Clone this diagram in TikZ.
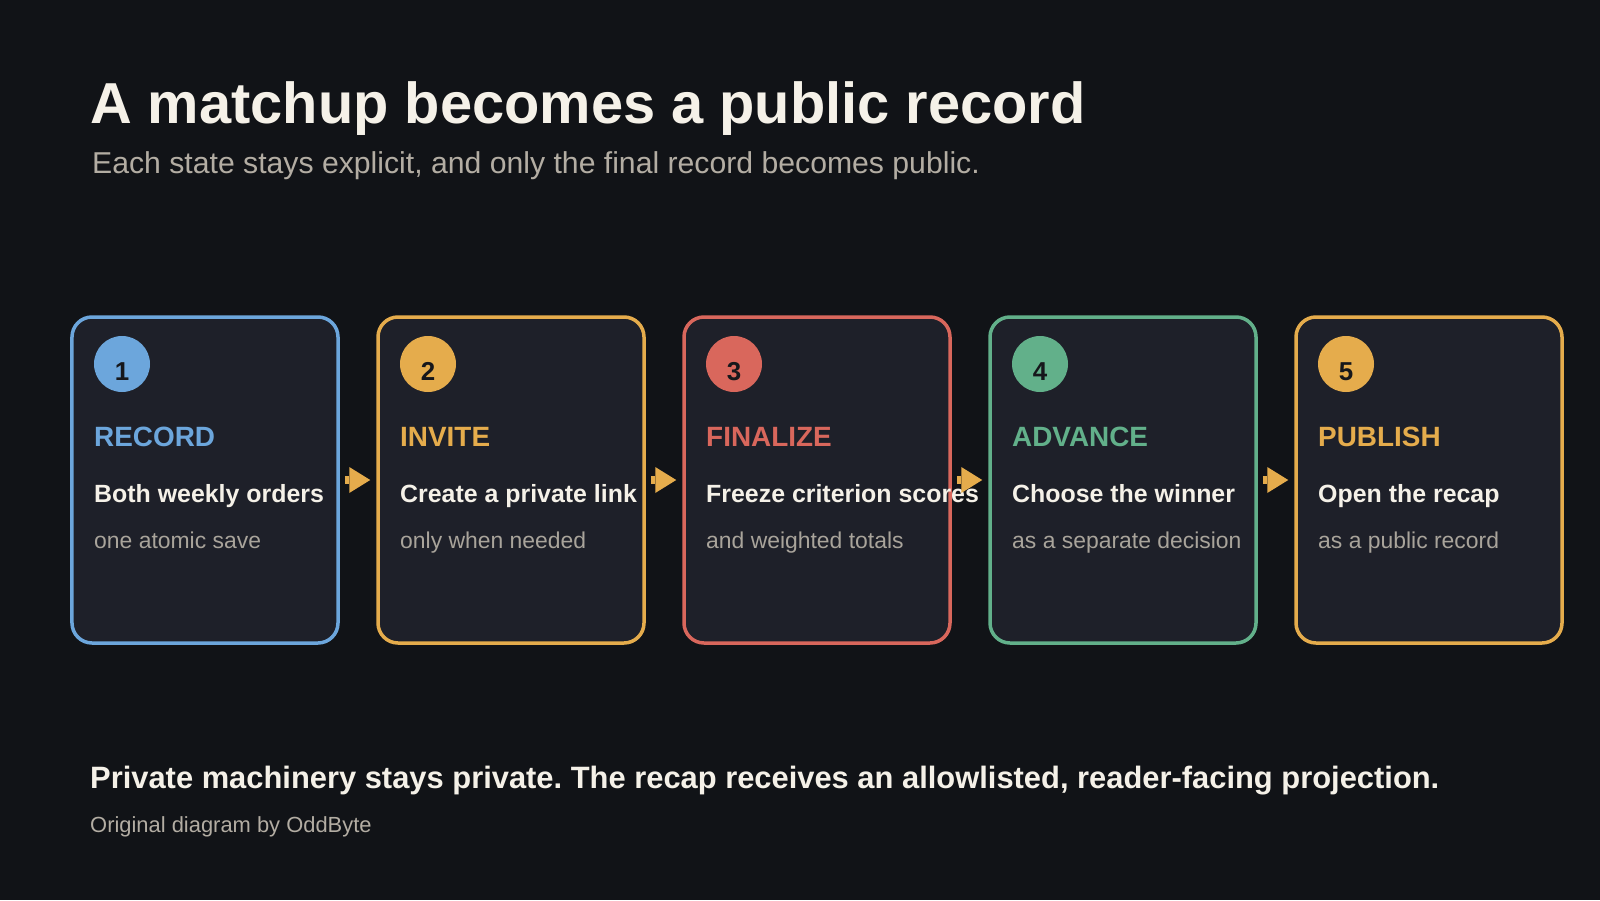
\documentclass[tikz,border=0pt]{standalone}
\usepackage{fontspec}
\setmainfont{Liberation Sans}
\usetikzlibrary{arrows.meta}
\frenchspacing
\definecolor{bgdark}{HTML}{111317}
\definecolor{cardfill}{HTML}{1E2029}
\definecolor{cream}{HTML}{F5F1E8}
\definecolor{greytext}{HTML}{B3ADA3}
\definecolor{subgrey}{HTML}{A9A49B}
\definecolor{cblue}{HTML}{6CA6DC}
\definecolor{corange}{HTML}{E5AC4C}
\definecolor{cred}{HTML}{D9675C}
\definecolor{cgreen}{HTML}{62B08A}
\definecolor{digit}{HTML}{16171B}
\tikzset{
  card/.style={draw=#1,fill=cardfill,line width=3.5bp,rounded corners=20bp,
    minimum width=266bp,minimum height=326bp,inner sep=0},
  badge/.style={circle,fill=#1,minimum size=56bp,inner sep=0},
  txt/.style={anchor=base west,inner sep=0},
  badgenum/.style={anchor=base,inner sep=0,text=digit,font=\fontsize{26}{30}\selectfont\bfseries},
  stage/.style={txt,text=#1,font=\fontsize{28}{32}\selectfont\bfseries},
  lead/.style={txt,text=cream,font=\fontsize{25}{29}\selectfont\bfseries},
  note/.style={txt,text=subgrey,font=\fontsize{23}{27}\selectfont},
  flow/.style={color=corange,line width=8bp,shorten <=5bp,shorten >=6bp,
    -{Triangle[length=21bp,width=26bp,line width=0pt]}}
}
\begin{document}
\begin{tikzpicture}[x=1bp,y=-1bp]
\fill[bgdark] (0,0) rectangle (1600,900);
\useasboundingbox (0,0) rectangle (1600,900);
% header
\node[txt,text=cream,font=\fontsize{58}{66}\selectfont\bfseries] (title) at (90,123) {A matchup becomes a public record};
\node[txt,text=greytext,font=\fontsize{30.3}{34}\selectfont] (subtitle) at (92,173) {Each state stays explicit, and only the final record becomes public.};
% cards
\node[card=cblue] (b1) at (205,480) {};
\node[card=corange] (b2) at (511,480) {};
\node[card=cred] (b3) at (817,480) {};
\node[card=cgreen] (b4) at (1123,480) {};
\node[card=corange] (b5) at (1429,480) {};
% badges
\node[badge=cblue] (c1) at (122,364) {};
\node[badge=corange] (c2) at (428,364) {};
\node[badge=cred] (c3) at (734,364) {};
\node[badge=cgreen] (c4) at (1040,364) {};
\node[badge=corange] (c5) at (1346,364) {};
\node[badgenum] (d1) at (122,380) {1};
\node[badgenum] (d2) at (428,380) {2};
\node[badgenum] (d3) at (734,380) {3};
\node[badgenum] (d4) at (1040,380) {4};
\node[badgenum] (d5) at (1346,380) {5};
% stage names
\node[stage=cblue] (s1) at (94,446) {RECORD};
\node[stage=corange] (s2) at (400,446) {INVITE};
\node[stage=cred] (s3) at (706,446) {FINALIZE};
\node[stage=cgreen] (s4) at (1012,446) {ADVANCE};
\node[stage=corange] (s5) at (1318,446) {PUBLISH};
% what happens
\node[lead] (l1) at (94,502) {Both weekly orders};
\node[lead] (l2) at (400,502) {Create a private link};
\node[lead] (l3) at (706,502) {Freeze criterion scores};
\node[lead] (l4) at (1012,502) {Choose the winner};
\node[lead] (l5) at (1318,502) {Open the recap};
\node[note] (n1) at (94,548) {one atomic save};
\node[note] (n2) at (400,548) {only when needed};
\node[note] (n3) at (706,548) {and weighted totals};
\node[note] (n4) at (1012,548) {as a separate decision};
\node[note] (n5) at (1318,548) {as a public record};
% footer
\node[txt,text=cream,font=\fontsize{31}{35}\selectfont\bfseries] (foot) at (90,788) {Private machinery stays private. The recap receives an allowlisted, reader-facing projection.};
\node[txt,text=greytext,font=\fontsize{22}{26}\selectfont] (credit) at (90,832) {Original diagram by OddByte};
\path[flow]
(b1) edge (b2)
(b2) edge (b3)
(b3) edge (b4)
(b4) edge (b5)
;
\end{tikzpicture}
\end{document}
